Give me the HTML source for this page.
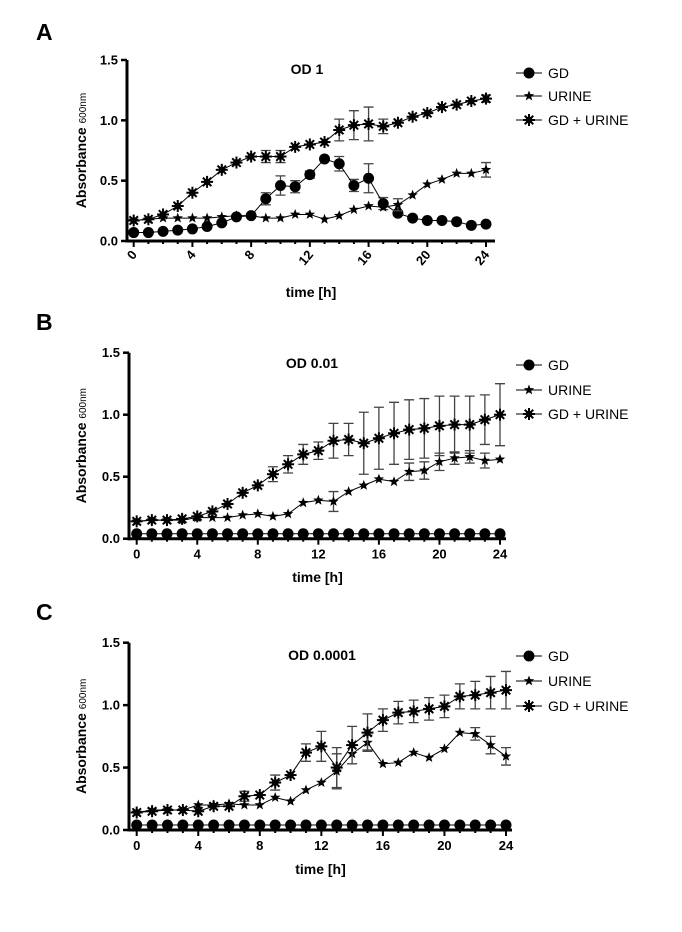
<!DOCTYPE html>
<html><head><meta charset="utf-8"><style>
html,body{margin:0;padding:0;background:#fff;}
svg{display:block;font-family:"Liberation Sans",Arial,sans-serif;}
</style></head><body>
<svg id="s" width="682" height="932" xmlns="http://www.w3.org/2000/svg"></svg>
<script>
const S=document.getElementById('s');let h='';
function star(x,y,r){let p=[];for(let i=0;i<10;i++){const a=-Math.PI/2+i*Math.PI/5;const rr=i%2?r*0.42:r;p.push((x+rr*Math.cos(a)).toFixed(1)+','+(y+rr*Math.sin(a)).toFixed(1));}return `<polygon points="${p.join(' ')}" fill="#000"/>`;}
function ast(x,y,r){let s=`<circle cx="${x}" cy="${y}" r="${r*0.55}" fill="#000"/>`;for(let i=0;i<4;i++){const a=i*Math.PI/4;s+=`<line x1="${x-r*Math.cos(a)}" y1="${y-r*Math.sin(a)}" x2="${x+r*Math.cos(a)}" y2="${y+r*Math.sin(a)}" stroke="#000" stroke-width="2"/>`;}return s;}
function mk(t,x,y){if(t==0)return `<circle cx="${x}" cy="${y}" r="5.5" fill="#000"/>`;if(t==1)return star(x,y,5.5);return ast(x,y,6);}
function panel(P){
 const {ax,y0,y15,x0,x24,xend,rot,title,tx,ty,letter,ly,data,err,leg,xl}=P;
 const X=t=>x0+(x24-x0)*t/24, Y=v=>y0+(y15-y0)*v/1.5;
 h+=`<text x="36" y="${ly}" font-size="23" font-weight="bold">${letter}</text>`;
 h+=`<line x1="${ax}" y1="${y15}" x2="${ax}" y2="${y0+1.5}" stroke="#000" stroke-width="3"/>`;
 h+=`<line x1="${ax-1.5}" y1="${y0}" x2="${xend}" y2="${y0}" stroke="#000" stroke-width="3"/>`;
 [0,0.5,1,1.5].forEach(v=>{h+=`<line x1="${ax-6}" y1="${Y(v)}" x2="${ax}" y2="${Y(v)}" stroke="#000" stroke-width="2.5"/><text x="${ax-9}" y="${Y(v)+4.5}" font-size="13" font-weight="bold" text-anchor="end">${v.toFixed(1)}</text>`;});
 for(let t=0;t<=24;t++){h+=`<line x1="${X(t)}" y1="${y0}" x2="${X(t)}" y2="${y0+(t%4?3:6)}" stroke="#000" stroke-width="2"/>`;}
 for(let t=0;t<=24;t+=4){ if(rot) h+=`<text transform="translate(${X(t)+4},${y0+14}) rotate(-50)" font-size="13" font-weight="bold" text-anchor="end">${t}</text>`; else h+=`<text x="${X(t)}" y="${y0+20}" font-size="13" font-weight="bold" text-anchor="middle">${t}</text>`;}
 h+=`<text x="${(ax+xend)/2}" y="${xl}" font-size="14" font-weight="bold" text-anchor="middle">time [h]</text>`;
 const cy=(y0+y15)/2;
 h+=`<text transform="translate(86,${cy}) rotate(-90)" font-size="14" font-weight="bold" text-anchor="middle">Absorbance <tspan font-size="10" font-weight="normal">600nm</tspan></text>`;
 h+=`<text x="${tx}" y="${ty}" font-size="14" font-weight="bold" text-anchor="middle">${title}</text>`;
 data.forEach((d,k)=>{
  const e=err[k];
  for(const t in e){const x=X(+t),a=Y(d[t]+e[t]),b=Y(d[t]-e[t]);h+=`<path d="M${x-5},${a}H${x+5}M${x},${a}V${b}M${x-5},${b}H${x+5}" stroke="#444" stroke-width="1.3" fill="none"/>`;}
  h+=`<polyline points="${d.map((v,t)=>X(t)+','+Y(v)).join(' ')}" fill="none" stroke="#000" stroke-width="1"/>`;
  d.forEach((v,t)=>{h+=mk(k,X(t),Y(v));});
 });
 const names=['GD','URINE','GD + URINE'];
 leg.forEach((y,k)=>{h+=`<line x1="516" y1="${y}" x2="542" y2="${y}" stroke="#000" stroke-width="1"/>`+mk(k,529,y)+`<text x="548" y="${y+5}" font-size="14">${names[k]}</text>`;});
}
const gd4=Array(25).fill(0.04);
panel({ax:127,y0:241,y15:60,x0:133.7,x24:486,xend:495,rot:true,title:'OD 1',tx:307,ty:74,letter:'A',ly:40,xl:297,leg:[73,96,120],
 data:[[0.07,0.07,0.08,0.09,0.10,0.12,0.15,0.20,0.21,0.35,0.46,0.45,0.55,0.68,0.64,0.46,0.52,0.31,0.23,0.19,0.17,0.17,0.16,0.13,0.14],
 [0.17,0.18,0.19,0.19,0.19,0.19,0.20,0.21,0.21,0.19,0.19,0.22,0.22,0.18,0.21,0.26,0.29,0.28,0.30,0.38,0.47,0.51,0.56,0.56,0.59],
 [0.17,0.18,0.22,0.29,0.40,0.49,0.59,0.65,0.70,0.70,0.70,0.78,0.80,0.82,0.92,0.96,0.97,0.95,0.98,1.03,1.06,1.11,1.13,1.16,1.18]],
 err:[{9:.05,10:.08,11:.05,12:.03,14:.06,15:.05,16:.12,17:.05},{18:.05,24:.06},{9:.05,10:.05,14:.09,15:.12,16:.14,17:.06,24:.03}]});
panel({ax:129,y0:538.7,y15:352.7,x0:136.7,x24:500,xend:506,rot:false,title:'OD 0.01',tx:312,ty:368,letter:'B',ly:330,xl:582,leg:[365,390,414],
 data:[gd4,[0.14,0.15,0.15,0.15,0.17,0.17,0.17,0.19,0.20,0.18,0.20,0.29,0.31,0.30,0.38,0.43,0.48,0.46,0.54,0.55,0.62,0.65,0.66,0.63,0.64],
 [0.14,0.15,0.15,0.16,0.18,0.22,0.28,0.37,0.43,0.52,0.60,0.68,0.71,0.79,0.80,0.77,0.81,0.85,0.88,0.89,0.91,0.92,0.92,0.96,1.00]],
 err:[{},{13:.08,18:.07,19:.07,20:.07,21:.05,22:.05,23:.06},{9:.06,10:.07,11:.08,12:.07,13:.14,14:.13,15:.25,16:.25,17:.25,18:.24,19:.24,20:.24,21:.23,22:.23,23:.2,24:.25}]});
panel({ax:129,y0:830,y15:642.7,x0:136.7,x24:506,xend:512,rot:false,title:'OD 0.0001',tx:322,ty:660,letter:'C',ly:620,xl:874,leg:[656,681,706],
 data:[gd4,[0.14,0.16,0.16,0.16,0.20,0.20,0.21,0.20,0.20,0.26,0.23,0.32,0.38,0.47,0.61,0.70,0.53,0.54,0.62,0.58,0.65,0.78,0.77,0.68,0.59],
 [0.14,0.15,0.16,0.16,0.15,0.19,0.19,0.27,0.28,0.38,0.44,0.62,0.67,0.50,0.68,0.78,0.88,0.94,0.95,0.97,0.99,1.07,1.08,1.10,1.12]],
 err:[{},{13:.14,15:.06,22:.05,23:.07,24:.07},{7:.04,9:.06,11:.07,12:.12,13:.16,14:.15,15:.15,16:.09,17:.09,18:.09,19:.09,20:.09,21:.1,22:.11,23:.13,24:.15}]});
S.innerHTML=h;
</script>
</body></html>
